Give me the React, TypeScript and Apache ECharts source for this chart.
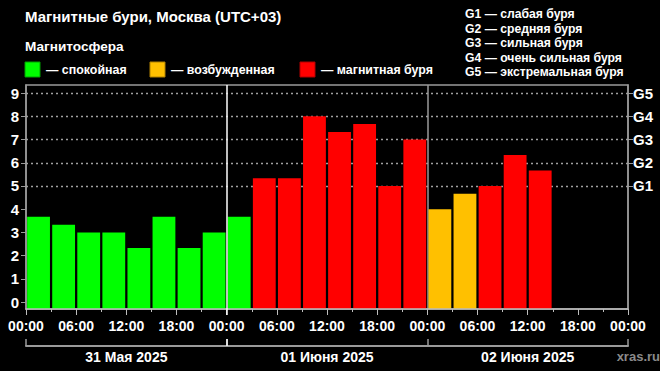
import React, { useEffect, useRef } from "react";
import * as echarts from "echarts";

// ---- data ----
const dayLabels = ["31 Мая 2025", "01 Июня 2025", "02 Июня 2025"];
const slotTimes = ["00:00", "03:00", "06:00", "09:00", "12:00", "15:00", "18:00", "21:00"];
const kpDay1 = [3.67, 3.33, 3.0, 3.0, 2.33, 3.67, 2.33, 3.0];
const kpDay2 = [3.67, 5.33, 5.33, 8.0, 7.33, 7.67, 5.0, 7.0];
const kpDay3 = [4.0, 4.67, 5.0, 6.33, 5.67];
const kpTicks = [0, 1, 2, 3, 4, 5, 6, 7, 8, 9];
const gLevels = [5, 6, 7, 8, 9];
const gLabels = ["G1", "G2", "G3", "G4", "G5"];
const gLegend = [
  "G1 — слабая буря",
  "G2 — средняя буря",
  "G3 — сильная буря",
  "G4 — очень сильная буря",
  "G5 — экстремальная буря",
];
const stateLabels = ["— спокойная", "— возбужденная", "— магнитная буря"];
const dayBoundaries = [24, 48];
const titleText = "Магнитные бури, Москва (UTC+03)";
const subtitleText = "Магнитосфера";
const sourceText = "xras.ru";

// ---- styles ----
const GREEN = "#00ff00";
const ORANGE = "#ffc000";
const RED = "#ff0000";
const stateColors = [GREEN, ORANGE, RED];
const stateBorders = ["#00a000", "#b08000", "#b00000"];
const FONT = "'Liberation Sans', Arial, sans-serif";
const Y_MIN = -0.3;
const Y_MAX = 9.35;
const NO_ZERO = { onZero: false };
const GRID_LINE = { color: "#a0a0a0", type: [2, 3], width: 1.3 };

const kpColor = (v: number) => (v < 4 ? GREEN : v < 5 ? ORANGE : RED);

export default function App() {
  const ref = useRef<HTMLDivElement>(null);

  useEffect(() => {
    document.body.style.margin = "0";
    document.body.style.background = "#000";
    if (!ref.current) return;
    const chart = echarts.init(ref.current, undefined, { renderer: "svg" });

    const slots: string[] = [];
    dayLabels.forEach((d) => slotTimes.forEach((t) => slots.push(d + " " + t)));
    const kp = [...kpDay1, ...kpDay2, ...kpDay3];
    const barData = kp.map((v, i) => [i, v]);

    const graphic: any[] = [
      {
        type: "text",
        left: 25,
        top: 9,
        style: { text: titleText, fill: "#fff", font: `bold 15px ${FONT}` },
      },
      {
        type: "text",
        left: 25,
        top: 39,
        style: { text: subtitleText, fill: "#fff", font: `bold 13.6px ${FONT}` },
      },
    ];
    const legendX = [25, 150, 300];
    stateLabels.forEach((lab, i) => {
      graphic.push({
        type: "rect",
        shape: { x: legendX[i], y: 62, width: 15, height: 15 },
        style: { fill: stateColors[i], stroke: stateBorders[i], lineWidth: 1 },
      });
      graphic.push({
        type: "text",
        x: legendX[i] + 21,
        y: 70,
        style: {
          text: lab,
          fill: "#fff",
          font: `bold 12.4px ${FONT}`,
          verticalAlign: "middle",
        },
      });
    });
    gLegend.forEach((t, i) => {
      graphic.push({
        type: "text",
        x: 465,
        y: 14 + i * 14.6,
        style: { text: t, fill: "#fff", font: `bold 12.2px ${FONT}`, verticalAlign: "middle" },
      });
    });
    graphic.push({
      type: "text",
      right: 0,
      top: 350,
      style: { text: sourceText, fill: "#8a8a8a", font: `bold 13px ${FONT}` },
    });

    const hourFmt = (v: number) => {
      const h = Math.round(v) % 24;
      return (h < 10 ? "0" : "") + h + ":00";
    };

    chart.setOption({
      animation: false,
      backgroundColor: "#000",
      textStyle: { fontFamily: FONT },
      graphic,
      grid: {
        left: 26,
        right: 32,
        top: 85,
        bottom: 62,
        show: true,
        borderColor: "#9a9a9a",
        borderWidth: 1.5,
        backgroundColor: "transparent",
      },
      xAxis: [
        {
          type: "category",
          data: slots,
          show: false,
          boundaryGap: true,
          axisLine: { show: false, ...NO_ZERO },
        },
        {
          type: "value",
          min: 0,
          max: 72,
          interval: 6,
          position: "bottom",
          z: 10,
          axisLine: { show: true, ...NO_ZERO, lineStyle: { color: "#bdbdbd", width: 1.5 } },
          axisTick: { show: true, length: 6, lineStyle: { color: "#bdbdbd", width: 1 } },
          minorTick: { show: true, splitNumber: 2, length: 3, lineStyle: { color: "#bdbdbd" } },
          splitLine: { show: false },
          axisLabel: {
            color: "#fff",
            fontWeight: "bold",
            fontSize: 14,
            fontFamily: FONT,
            margin: 10,
            formatter: hourFmt,
          },
        },
        {
          type: "category",
          data: dayLabels,
          position: "bottom",
          offset: 37,
          boundaryGap: true,
          axisLine: { show: true, ...NO_ZERO, lineStyle: { color: "#9a9a9a", width: 2 } },
          axisTick: { show: true, inside: true, length: 7, lineStyle: { color: "#9a9a9a", width: 1.5 } },
          axisLabel: {
            color: "#fff",
            fontWeight: "bold",
            fontSize: 14,
            fontFamily: FONT,
            margin: 4,
          },
        },
        {
          type: "value",
          min: 0,
          max: 72,
          position: "bottom",
          z: 11,
          axisLine: { show: false, ...NO_ZERO },
          axisTick: {
            show: true,
            length: 6,
            customValues: [dayBoundaries[0]],
            lineStyle: { color: "#fff", width: 1.5 },
          },
          axisLabel: { show: false },
          splitLine: { show: true, lineStyle: { color: "#ffffff", width: 1.5 } },
        },
        {
          type: "value",
          min: 0,
          max: 72,
          position: "bottom",
          offset: 37,
          axisLine: { show: false, ...NO_ZERO },
          axisTick: {
            show: true,
            inside: true,
            length: 7,
            customValues: [dayBoundaries[0]],
            lineStyle: { color: "#fff", width: 1.5 },
          },
          axisLabel: { show: false },
          splitLine: { show: false },
        },
        {
          type: "value",
          min: 0,
          max: 72,
          position: "bottom",
          axisLine: { show: false, ...NO_ZERO },
          axisTick: { show: false, customValues: [dayBoundaries[1]] },
          axisLabel: { show: false },
          splitLine: { show: true, lineStyle: { color: "#9a9a9a", width: 1.5 } },
        },
      ],
      yAxis: [
        {
          type: "value",
          min: Y_MIN,
          max: Y_MAX,
          position: "left",
          axisLine: { show: true, ...NO_ZERO, lineStyle: { color: "#9a9a9a", width: 1.5 } },
          axisTick: {
            show: true,
            length: 5,
            customValues: kpTicks,
            lineStyle: { color: "#9a9a9a" },
          },
          axisLabel: {
            customValues: kpTicks,
            color: "#fff",
            fontWeight: "bold",
            fontSize: 15,
            fontFamily: FONT,
            margin: 7,
          },
          splitLine: { show: false },
        },
        {
          type: "value",
          min: Y_MIN,
          max: Y_MAX,
          position: "right",
          axisLine: { show: true, ...NO_ZERO, lineStyle: { color: "#9a9a9a", width: 1.5 } },
          axisTick: {
            show: true,
            length: 5,
            customValues: gLevels,
            lineStyle: { color: "#9a9a9a" },
          },
          axisLabel: {
            customValues: gLevels,
            formatter: (v: number) => gLabels[gLevels.indexOf(Math.round(v))] ?? "",
            color: "#fff",
            fontWeight: "bold",
            fontSize: 15,
            fontFamily: FONT,
            margin: 5,
          },
          splitLine: { show: false },
        },
      ],
      series: [
        {
          type: "custom",
          xAxisIndex: 0,
          yAxisIndex: 0,
          data: barData,
          encode: { x: 0, y: 1 },
          z: 3,
          renderItem: (params: any, api: any) => {
            const v = api.value(1);
            const idx = api.value(0);
            const top = api.coord([idx, v]);
            const base = api.coord([idx, Y_MIN]);
            const w = api.size([1, 0])[0] * 0.91;
            return {
              type: "rect",
              shape: { x: top[0] - w / 2, y: top[1], width: w, height: base[1] - top[1] },
              style: { fill: kpColor(v) },
            };
          },
          markLine: {
            silent: true,
            symbol: "none",
            label: { show: false },
            z: 1,
            lineStyle: GRID_LINE,
            data: gLevels.map((g) => ({ yAxis: g })),
          },
        },
      ],
    });

    return () => chart.dispose();
  }, []);

  return <div ref={ref} style={{ width: 660, height: 371, background: "#000" }} />;
}
